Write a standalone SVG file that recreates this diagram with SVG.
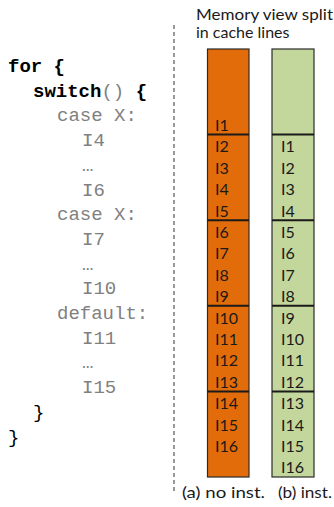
<svg xmlns="http://www.w3.org/2000/svg" width="334" height="507" viewBox="0 0 334 507">
<style>
.code{font-family:"Liberation Mono","Courier New",monospace;font-size:19px}
.kw{fill:#000;font-weight:bold}
.g{fill:#808080}
.b{fill:#000}
.lab{font-family:Lato,"Open Sans",sans-serif;font-size:16px;fill:#1a1a1a}
.il{font-family:Lato,"Open Sans",sans-serif;font-size:16px;fill:#1a1a1a}
.ob{fill:#E36C0A;stroke:#2b2b2b;stroke-width:1.2}
.gb{fill:#C3D69B;stroke:#2b2b2b;stroke-width:1.2}
.div{stroke:#1a1a1a;stroke-width:2}
</style>
<rect width="334" height="507" fill="#fff"/>
<g id="code">
<text class="code kw" x="8" y="72">for {</text>
<text class="code" x="33" y="96.7"><tspan class="kw">switch</tspan><tspan class="g">()</tspan><tspan class="kw"> {</tspan></text>
<text class="code g" x="57" y="121.4">case X:</text>
<text class="code g" x="82" y="146.1">I4</text>
<text class="code g" x="82" y="170.8">…</text>
<text class="code g" x="82" y="195.5">I6</text>
<text class="code g" x="57" y="220.2">case X:</text>
<text class="code g" x="82" y="244.9">I7</text>
<text class="code g" x="82" y="269.6">…</text>
<text class="code g" x="82" y="294.3">I10</text>
<text class="code g" x="57" y="319">default:</text>
<text class="code g" x="82" y="343.7">I11</text>
<text class="code g" x="82" y="368.4">…</text>
<text class="code g" x="82" y="393.1">I15</text>
<text class="code b" x="33" y="417.8">}</text>
<text class="code b" x="8" y="442.5">}</text>
</g>
<g id="connectors">
<line x1="174" y1="25" x2="174" y2="494" stroke="#555" stroke-width="1.2" stroke-dasharray="4 3"/>
</g>
<g id="title">
<text class="lab" x="196" y="20" textLength="137" lengthAdjust="spacingAndGlyphs">Memory view split</text>
<text class="lab" x="196" y="38">in cache lines</text>
</g>
<g id="col-a">
<rect class="ob" x="207.5" y="49" width="41.5" height="428"/>
<line class="div" x1="207.5" y1="134.6" x2="249" y2="134.6"/>
<line class="div" x1="207.5" y1="220.2" x2="249" y2="220.2"/>
<line class="div" x1="207.5" y1="305.8" x2="249" y2="305.8"/>
<line class="div" x1="207.5" y1="391.4" x2="249" y2="391.4"/>
<text class="il" x="215" y="131">I1</text>
<text class="il" x="215" y="152.4">I2</text>
<text class="il" x="215" y="173.8">I3</text>
<text class="il" x="215" y="195.2">I4</text>
<text class="il" x="215" y="216.6">I5</text>
<text class="il" x="215" y="238">I6</text>
<text class="il" x="215" y="259.4">I7</text>
<text class="il" x="215" y="280.8">I8</text>
<text class="il" x="215" y="302.2">I9</text>
<text class="il" x="215" y="323.6">I10</text>
<text class="il" x="215" y="345">I11</text>
<text class="il" x="215" y="366.4">I12</text>
<text class="il" x="215" y="387.8">I13</text>
<text class="il" x="215" y="409.2">I14</text>
<text class="il" x="215" y="430.6">I15</text>
<text class="il" x="215" y="452">I16</text>
<text class="lab" x="182" y="498" textLength="83" lengthAdjust="spacingAndGlyphs">(a) no inst.</text>
</g>
<g id="col-b">
<rect class="gb" x="272" y="49" width="42" height="428"/>
<line class="div" x1="272" y1="134.6" x2="314" y2="134.6"/>
<line class="div" x1="272" y1="220.2" x2="314" y2="220.2"/>
<line class="div" x1="272" y1="305.8" x2="314" y2="305.8"/>
<line class="div" x1="272" y1="391.4" x2="314" y2="391.4"/>
<text class="il" x="281" y="152.4">I1</text>
<text class="il" x="281" y="173.8">I2</text>
<text class="il" x="281" y="195.2">I3</text>
<text class="il" x="281" y="216.6">I4</text>
<text class="il" x="281" y="238">I5</text>
<text class="il" x="281" y="259.4">I6</text>
<text class="il" x="281" y="280.8">I7</text>
<text class="il" x="281" y="302.2">I8</text>
<text class="il" x="281" y="323.6">I9</text>
<text class="il" x="281" y="345">I10</text>
<text class="il" x="281" y="366.4">I11</text>
<text class="il" x="281" y="387.8">I12</text>
<text class="il" x="281" y="409.2">I13</text>
<text class="il" x="281" y="430.6">I14</text>
<text class="il" x="281" y="452">I15</text>
<text class="il" x="281" y="473.4">I16</text>
<text class="lab" x="278" y="498" textLength="54" lengthAdjust="spacingAndGlyphs">(b) inst.</text>
</g>
</svg>
